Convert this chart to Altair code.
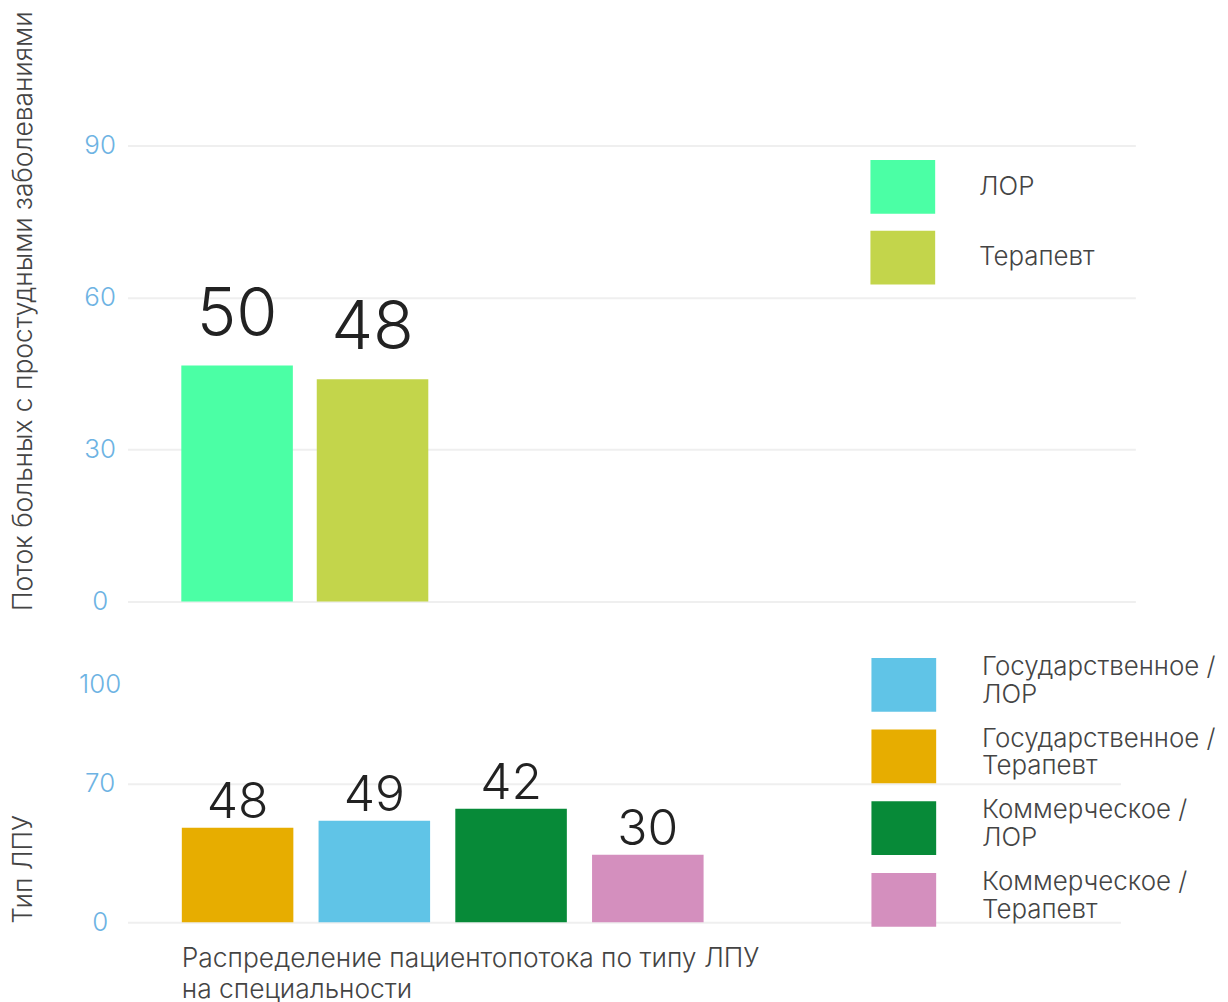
import altair as alt
import pandas as pd

# ---- data ----
top_categories = ["ЛОР", "Терапевт"]
top_values = [46.6, 43.9]
top_labels = [50, 48]
top_colors = ["#4bffa5", "#c3d54b"]

bottom_categories = [
    "Государственное / Терапевт",
    "Государственное / ЛОР",
    "Коммерческое / ЛОР",
    "Коммерческое / Терапевт",
]
bottom_values = [47.8, 51.4, 57.4, 34.2]
bottom_labels = [48, 49, 42, 30]
bottom_legend_order = [
    "Государственное / ЛОР",
    "Государственное / Терапевт",
    "Коммерческое / ЛОР",
    "Коммерческое / Терапевт",
]
bottom_colors = ["#60c4e7", "#e7ad00", "#078a38", "#d48fbe"]

top_ticks = [0, 30, 60, 90]
bottom_ticks = [0, 70, 100]

top_df = pd.DataFrame({
    "cat": top_categories,
    "pos": list(range(len(top_categories))),
    "value": top_values,
    "label": top_labels,
})
bottom_df = pd.DataFrame({
    "cat": bottom_categories,
    "pos": list(range(len(bottom_categories))),
    "value": bottom_values,
    "label": bottom_labels,
})

FONT = "Inter"
TICK_COLOR = "#6db3e3"
TEXT_COLOR = "#444444"
RECT_PATH = "M-1,-0.83L1,-0.83L1,0.83L-1,0.83Z"
RECT_PATH_LOW = "M-1,-0.676L1,-0.676L1,0.984L-1,0.984Z"

y_axis_common = dict(
    ticks=False,
    domain=False,
    labelColor=TICK_COLOR,
    labelFontSize=26,
    labelFont=FONT,
    labelFontWeight=300,
    labelAlign="center",
    labelPadding=28,
    gridColor="#efefef",
    gridWidth=2,
    titleFont=FONT,
    titleFontSize=26.5,
    titleFontWeight=300,
    titleColor=TEXT_COLOR,
    titleAlign="left",
    titleBaseline="bottom",
    titleAngle=270,
    titleX=-90,
)

# ---- top panel ----
top_base = alt.Chart(top_df).encode(
    x=alt.X(
        "pos:Q",
        axis=None,
        scale=alt.Scale(domain=[-0.809, 6.632], nice=False, zero=False, padding=0),
    ),
    y=alt.Y(
        "value:Q",
        scale=alt.Scale(domain=[0, 90], nice=False),
        axis=alt.Axis(
            values=top_ticks,
            title="Поток больных с простудными заболеваниями",
            titleY=467,
            **y_axis_common,
        ),
    ),
)
top_bars = top_base.mark_bar(size=112).encode(
    color=alt.Color(
        "cat:N",
        scale=alt.Scale(domain=top_categories, range=top_colors),
        legend=alt.Legend(
            title=None,
            orient="none",
            legendX=746,
            legendY=9,
            symbolType=RECT_PATH,
            symbolSize=4225,
            symbolStrokeWidth=0,
            labelFont=FONT,
            labelFontSize=26,
            labelFontWeight=300,
            labelColor=TEXT_COLOR,
            labelOffset=44,
            rowPadding=11,
            padding=0,
        ),
    )
)
top_text = top_base.mark_text(
    baseline="alphabetic", dy=-30, font=FONT, fontSize=67, fontWeight=300, color="#222222"
).encode(text="label:Q")
top_chart = alt.layer(top_bars, top_text).properties(width=1012, height=458)

# ---- bottom panel ----
bottom_base = alt.Chart(bottom_df).encode(
    x=alt.X(
        "pos:Q",
        scale=alt.Scale(domain=[-0.805, 6.456], nice=False, zero=False, padding=0),
        axis=alt.Axis(
            labels=False,
            ticks=False,
            domain=False,
            grid=False,
            title=["Распределение пациентопотока по типу ЛПУ", "на специальности"],
            titleFont=FONT,
            titleFontSize=26.5,
            titleFontWeight=300,
            titleColor=TEXT_COLOR,
            titleLineHeight=32,
            titleAlign="left",
            titleAnchor="start",
            titleX=54,
            titleBaseline="top",
            titlePadding=23,
        ),
    ),
    y=alt.Y(
        "value:Q",
        scale=alt.Scale(domain=[0, 70, 100], range=[239, 100, 0], nice=False),
        axis=alt.Axis(
            values=bottom_ticks,
            title="Тип ЛПУ",
            titleY=240,
            gridOpacity={"condition": {"test": "datum.value === 100", "value": 0}, "value": 1},
            **y_axis_common,
        ),
    ),
)
bottom_bars = bottom_base.mark_bar(size=112).encode(
    color=alt.Color(
        "cat:N",
        scale=alt.Scale(domain=bottom_legend_order, range=bottom_colors),
        legend=alt.Legend(
            title=None,
            orient="none",
            legendX=747,
            legendY=-37,
            symbolType=RECT_PATH_LOW,
            symbolSize=4225,
            symbolStrokeWidth=0,
            labelFont=FONT,
            labelFontSize=26,
            labelFontWeight=300,
            labelColor=TEXT_COLOR,
            labelBaseline="bottom",
            labelOffset=46,
            labelLimit=400,
            labelExpr="[split(datum.label, ' / ')[0] + ' /', split(datum.label, ' / ')[1]]",
            rowPadding=7,
            padding=0,
        ),
    )
)
bottom_text = bottom_base.mark_text(
    baseline="alphabetic", dy=-10, font=FONT, fontSize=50, fontWeight=300, color="#222222"
).encode(text="label:Q")
bottom_chart = alt.layer(bottom_bars, bottom_text).properties(width=997, height=239)

chart = (
    alt.vconcat(top_chart, bottom_chart, spacing=33)
    .resolve_scale(color="independent")
    .properties(padding={"left": 2, "top": 0, "right": 4, "bottom": 0})
    .configure_view(stroke=None)
)

chart.save("out.html", embed_options={"renderer": "svg", "actions": False})
